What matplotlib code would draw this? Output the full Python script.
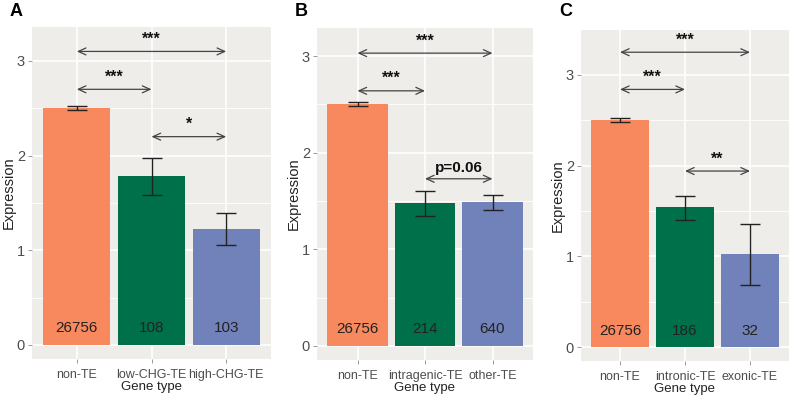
import matplotlib
matplotlib.use("Agg")
import matplotlib.pyplot as plt

plt.rcParams["font.family"] = ["Liberation Sans", "DejaVu Sans"]

# Data
cats_a = ["non-TE", "low-CHG-TE", "high-CHG-TE"]
mean_a = [2.50, 1.78, 1.22]
lo_a = [2.48, 1.58, 1.06]
hi_a = [2.52, 1.97, 1.39]
n_a = ["26756", "108", "103"]

cats_b = ["non-TE", "intragenic-TE", "other-TE"]
mean_b = [2.50, 1.48, 1.49]
lo_b = [2.48, 1.35, 1.41]
hi_b = [2.52, 1.60, 1.56]
n_b = ["26756", "214", "640"]

cats_c = ["non-TE", "intronic-TE", "exonic-TE"]
mean_c = [2.50, 1.54, 1.03]
lo_c = [2.48, 1.40, 0.68]
hi_c = [2.52, 1.66, 1.36]
n_c = ["26756", "186", "32"]

# comparisons: (from, to, y, label)
comp_a = [(1, 3, 3.10, "***"), (1, 2, 2.70, "***"), (2, 3, 2.20, "*")]
comp_b = [(1, 3, 3.03, "***"), (1, 2, 2.64, "***"), (2, 3, 1.73, "p=0.06")]
comp_c = [(1, 3, 3.25, "***"), (1, 2, 2.84, "***"), (2, 3, 1.94, "**")]

COLORS = ["#F8885E", "#00704B", "#7181BA"]
BG = "#EEEDEA"
W, H = 797, 400

# panel boxes in pixels: left, top, right, bottom ; ylim
panels = [
    ("A", cats_a, mean_a, lo_a, hi_a, n_a, comp_a, (32, 27, 271, 359), (-0.148, 3.358)),
    ("B", cats_b, mean_b, lo_b, hi_b, n_b, comp_b, (317, 28, 533, 360), (-0.145, 3.29)),
    ("C", cats_c, mean_c, lo_c, hi_c, n_c, comp_c, (581, 30, 789, 361), (-0.154, 3.495)),
]

fig = plt.figure(figsize=(W / 100, H / 100), dpi=100, facecolor="white")

for letter, cats, mean, lo, hi, n, comps, box, ylim in panels:
    l, t, r, b = box
    ax = fig.add_axes([l / W, 1 - b / H, (r - l) / W, (b - t) / H])
    ax.set_facecolor(BG)
    for s in ax.spines.values():
        s.set_visible(False)

    x = [1, 2, 3]
    ax.set_xlim(0.4, 3.6)
    ax.set_ylim(*ylim)

    # grid
    for yv in [0.5, 1.5, 2.5]:
        ax.axhline(yv, color="white", lw=0.6, zorder=0)
    for yv in [0, 1, 2, 3]:
        ax.axhline(yv, color="white", lw=1.2, zorder=0)
    for xv in x:
        ax.axvline(xv, color="white", lw=1.2, zorder=0)

    ax.bar(x, mean, width=0.9, color=COLORS, zorder=2)
    yerr = [[m - a for m, a in zip(mean, lo)], [c - m for m, c in zip(mean, hi)]]
    ax.errorbar(x, mean, yerr=yerr, fmt="none", ecolor="#222222",
                elinewidth=1.0, capsize=7, capthick=1.0, zorder=3)

    for xi, txt in zip(x, n):
        ax.text(xi, 0.18, txt, ha="center", va="center", fontsize=11,
                color="#222222", zorder=4)

    for x0, x1, yv, lab in comps:
        ax.annotate("", xy=(x1, yv), xytext=(x0, yv),
                    arrowprops=dict(arrowstyle="<->,head_length=0.55,head_width=0.25",
                                    color="#444444", lw=0.9,
                                    shrinkA=0, shrinkB=0), zorder=5)
        if lab.startswith("p"):
            ax.text((x0 + x1) / 2, yv + 0.04, lab, ha="center", va="bottom",
                    fontsize=11, fontweight="bold", color="#111111")
        else:
            ax.text((x0 + x1) / 2, yv + 0.05, lab, ha="center", va="bottom",
                    fontsize=11.5, fontweight="bold", color="#111111")

    ax.set_xticks(x)
    ax.set_xticklabels(cats, fontsize=9, color="#4D4D4D")
    ax.set_yticks([0, 1, 2, 3])
    ax.set_yticklabels(["0", "1", "2", "3"], fontsize=10.5, color="#4D4D4D")
    ax.tick_params(axis="x", length=3, color="#888888", width=0.6, pad=4)
    ax.tick_params(axis="y", length=3, color="#888888", width=0.6, pad=2)
    ax.set_xlabel("Gene type", fontsize=9.5, color="#222222", labelpad=0)
    ax.set_ylabel("Expression", fontsize=10.5, color="#222222", labelpad=1)

    fig.text((l - 22) / W, 1 - 12 / H, letter, fontsize=13, fontweight="bold",
             ha="left", va="center")

fig.savefig("out.png", dpi=100, facecolor="white")
